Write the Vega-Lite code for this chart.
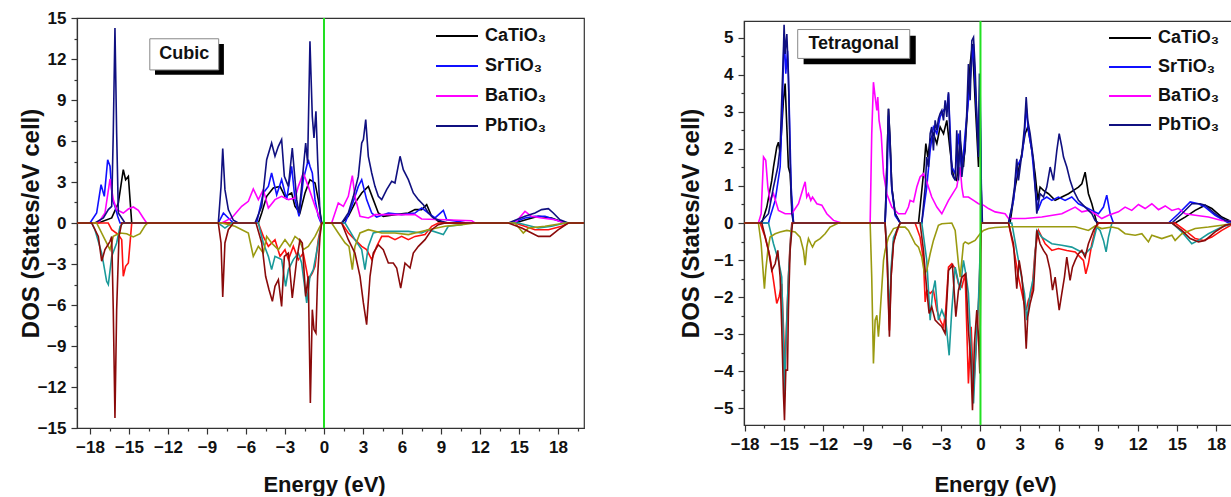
{
"$schema":"https://vega.github.io/schema/vega-lite/v6.json",
"background":"white",
"padding":{"left":18,"top":8,"right":0,"bottom":0},
"config":{
 "font":"Liberation Sans",
 "view":{"stroke":"#333","strokeWidth":1.2},
 "axis":{"grid":false,"domainColor":"#333","domainWidth":1.2,"tickColor":"#333","tickWidth":1.2,"labelFont":"Liberation Sans","labelFontWeight":"bold","labelFontSize":17,"labelColor":"#111","titleFont":"Liberation Sans","titleFontWeight":"bold","titleFontSize":22,"titleColor":"#111","labelPadding":5,"labelFlush":false,"labelOverlap":false}
},
"datasets":{
"cubic":[
{"s":"Ca","x":-19,"y":0},{"s":"Ca","x":-17.36,"y":0},{"s":"Ca","x":-16.33,"y":0.37},{"s":"Ca","x":-15.82,"y":1.46},{"s":"Ca","x":-15.44,"y":3.9},{"s":"Ca","x":-15.26,"y":3.17},{"s":"Ca","x":-15.05,"y":3.41},{"s":"Ca","x":-14.92,"y":1.71},{"s":"Ca","x":-14.79,"y":0},{"s":"Ca","x":-5.05,"y":0},{"s":"Ca","x":-4.79,"y":0.73},{"s":"Ca","x":-4.41,"y":1.95},{"s":"Ca","x":-3.9,"y":2.56},{"s":"Ca","x":-3.38,"y":2.68},{"s":"Ca","x":-3.0,"y":1.95},{"s":"Ca","x":-2.49,"y":2.2},{"s":"Ca","x":-2.23,"y":1.22},{"s":"Ca","x":-1.85,"y":0.73},{"s":"Ca","x":-1.46,"y":2.2},{"s":"Ca","x":-1.08,"y":3.17},{"s":"Ca","x":-0.69,"y":2.93},{"s":"Ca","x":-0.44,"y":1.71},{"s":"Ca","x":-0.18,"y":0},{"s":"Ca","x":1.36,"y":0},{"s":"Ca","x":1.87,"y":0.49},{"s":"Ca","x":2.38,"y":1.46},{"s":"Ca","x":2.9,"y":2.2},{"s":"Ca","x":3.41,"y":2.68},{"s":"Ca","x":3.79,"y":1.71},{"s":"Ca","x":4.18,"y":0.73},{"s":"Ca","x":4.56,"y":0.49},{"s":"Ca","x":5.46,"y":0.61},{"s":"Ca","x":6.49,"y":0.73},{"s":"Ca","x":7.0,"y":0.98},{"s":"Ca","x":7.51,"y":0.98},{"s":"Ca","x":7.9,"y":1.34},{"s":"Ca","x":8.28,"y":0.49},{"s":"Ca","x":8.79,"y":0.12},{"s":"Ca","x":9.31,"y":0},{"s":"Ca","x":14.69,"y":0},{"s":"Ca","x":15.72,"y":0.3},{"s":"Ca","x":16.49,"y":0.49},{"s":"Ca","x":17.51,"y":0.37},{"s":"Ca","x":18.54,"y":0},{"s":"Ca","x":20,"y":0},
{"s":"Sr","x":-19,"y":0},{"s":"Sr","x":-18.0,"y":0},{"s":"Sr","x":-17.49,"y":0.73},{"s":"Sr","x":-17.15,"y":2.8},{"s":"Sr","x":-16.9,"y":1.95},{"s":"Sr","x":-16.64,"y":4.63},{"s":"Sr","x":-16.46,"y":4.15},{"s":"Sr","x":-16.28,"y":1.71},{"s":"Sr","x":-16.08,"y":1.22},{"s":"Sr","x":-15.87,"y":0.49},{"s":"Sr","x":-15.69,"y":0},{"s":"Sr","x":-8.13,"y":0},{"s":"Sr","x":-7.74,"y":0.73},{"s":"Sr","x":-7.36,"y":0.37},{"s":"Sr","x":-6.97,"y":0},{"s":"Sr","x":-5.18,"y":0},{"s":"Sr","x":-4.67,"y":2.2},{"s":"Sr","x":-4.28,"y":2.68},{"s":"Sr","x":-4.03,"y":3.66},{"s":"Sr","x":-3.64,"y":2.07},{"s":"Sr","x":-3.26,"y":3.17},{"s":"Sr","x":-2.87,"y":1.71},{"s":"Sr","x":-2.49,"y":4.15},{"s":"Sr","x":-2.23,"y":1.71},{"s":"Sr","x":-1.92,"y":0.49},{"s":"Sr","x":-1.59,"y":3.17},{"s":"Sr","x":-1.21,"y":4.63},{"s":"Sr","x":-1.08,"y":4.15},{"s":"Sr","x":-0.9,"y":3.66},{"s":"Sr","x":-0.69,"y":1.71},{"s":"Sr","x":-0.44,"y":0.49},{"s":"Sr","x":-0.23,"y":0},{"s":"Sr","x":1.62,"y":0},{"s":"Sr","x":2.13,"y":1.22},{"s":"Sr","x":2.64,"y":2.68},{"s":"Sr","x":2.9,"y":3.17},{"s":"Sr","x":3.28,"y":1.71},{"s":"Sr","x":3.67,"y":0.73},{"s":"Sr","x":4.05,"y":0.44},{"s":"Sr","x":4.95,"y":0.73},{"s":"Sr","x":5.97,"y":0.61},{"s":"Sr","x":7.0,"y":0.73},{"s":"Sr","x":7.51,"y":1.1},{"s":"Sr","x":8.03,"y":0.73},{"s":"Sr","x":8.54,"y":0.37},{"s":"Sr","x":9.18,"y":0.93},{"s":"Sr","x":9.44,"y":0.24},{"s":"Sr","x":10.59,"y":0.07},{"s":"Sr","x":10.97,"y":0},{"s":"Sr","x":14.44,"y":0},{"s":"Sr","x":15.46,"y":0.37},{"s":"Sr","x":16.23,"y":0.49},{"s":"Sr","x":17.0,"y":0.49},{"s":"Sr","x":17.77,"y":0.24},{"s":"Sr","x":18.54,"y":0},{"s":"Sr","x":20,"y":0},
{"s":"Ba","x":-19,"y":0},{"s":"Ba","x":-17.36,"y":0},{"s":"Ba","x":-16.85,"y":0.73},{"s":"Ba","x":-16.46,"y":3.22},{"s":"Ba","x":-16.21,"y":1.71},{"s":"Ba","x":-15.95,"y":0.98},{"s":"Ba","x":-15.44,"y":0.73},{"s":"Ba","x":-15.05,"y":1.02},{"s":"Ba","x":-14.67,"y":1.17},{"s":"Ba","x":-14.28,"y":0.93},{"s":"Ba","x":-13.9,"y":0.37},{"s":"Ba","x":-13.64,"y":0},{"s":"Ba","x":-7.87,"y":0},{"s":"Ba","x":-7.1,"y":0.37},{"s":"Ba","x":-6.33,"y":1.22},{"s":"Ba","x":-5.82,"y":1.59},{"s":"Ba","x":-5.44,"y":2.49},{"s":"Ba","x":-5.05,"y":1.71},{"s":"Ba","x":-4.67,"y":2.44},{"s":"Ba","x":-4.28,"y":1.1},{"s":"Ba","x":-3.77,"y":1.71},{"s":"Ba","x":-3.26,"y":1.95},{"s":"Ba","x":-2.74,"y":1.71},{"s":"Ba","x":-2.23,"y":1.83},{"s":"Ba","x":-1.97,"y":2.68},{"s":"Ba","x":-1.59,"y":3.66},{"s":"Ba","x":-1.21,"y":2.68},{"s":"Ba","x":-0.69,"y":1.22},{"s":"Ba","x":-0.18,"y":0},{"s":"Ba","x":0.59,"y":0},{"s":"Ba","x":1.1,"y":1.46},{"s":"Ba","x":1.49,"y":1.22},{"s":"Ba","x":1.87,"y":1.95},{"s":"Ba","x":2.18,"y":3.46},{"s":"Ba","x":2.38,"y":1.95},{"s":"Ba","x":2.77,"y":0.49},{"s":"Ba","x":3.41,"y":0.37},{"s":"Ba","x":3.92,"y":0.61},{"s":"Ba","x":5.46,"y":0.61},{"s":"Ba","x":7.0,"y":0.61},{"s":"Ba","x":7.51,"y":0.29},{"s":"Ba","x":9.31,"y":0.24},{"s":"Ba","x":11.36,"y":0.17},{"s":"Ba","x":11.62,"y":0},{"s":"Ba","x":14.69,"y":0},{"s":"Ba","x":15.46,"y":0.85},{"s":"Ba","x":15.97,"y":0.49},{"s":"Ba","x":16.74,"y":0.37},{"s":"Ba","x":17.77,"y":0.24},{"s":"Ba","x":18.54,"y":0},{"s":"Ba","x":20,"y":0},
{"s":"Pb","x":-19,"y":0},{"s":"Pb","x":-17.62,"y":0},{"s":"Pb","x":-16.97,"y":0.37},{"s":"Pb","x":-16.59,"y":0.98},{"s":"Pb","x":-16.33,"y":1.22},{"s":"Pb","x":-16.21,"y":6.59},{"s":"Pb","x":-16.08,"y":14.27},{"s":"Pb","x":-15.95,"y":6.59},{"s":"Pb","x":-15.82,"y":0.73},{"s":"Pb","x":-15.56,"y":0.37},{"s":"Pb","x":-15.31,"y":0},{"s":"Pb","x":-8.13,"y":0},{"s":"Pb","x":-7.92,"y":2.68},{"s":"Pb","x":-7.79,"y":5.44},{"s":"Pb","x":-7.62,"y":2.44},{"s":"Pb","x":-7.36,"y":0.98},{"s":"Pb","x":-6.97,"y":0.2},{"s":"Pb","x":-6.59,"y":0},{"s":"Pb","x":-5.31,"y":0},{"s":"Pb","x":-4.79,"y":1.22},{"s":"Pb","x":-4.41,"y":4.63},{"s":"Pb","x":-4.03,"y":5.85},{"s":"Pb","x":-3.77,"y":4.88},{"s":"Pb","x":-3.51,"y":5.61},{"s":"Pb","x":-3.26,"y":6.1},{"s":"Pb","x":-3.05,"y":3.41},{"s":"Pb","x":-2.74,"y":2.68},{"s":"Pb","x":-2.44,"y":5.49},{"s":"Pb","x":-2.1,"y":1.71},{"s":"Pb","x":-1.92,"y":0.73},{"s":"Pb","x":-1.72,"y":2.68},{"s":"Pb","x":-1.41,"y":5.85},{"s":"Pb","x":-1.26,"y":4.39},{"s":"Pb","x":-1.08,"y":13.29},{"s":"Pb","x":-0.9,"y":7.8},{"s":"Pb","x":-0.77,"y":6.22},{"s":"Pb","x":-0.62,"y":8.17},{"s":"Pb","x":-0.49,"y":4.63},{"s":"Pb","x":-0.31,"y":0.73},{"s":"Pb","x":-0.18,"y":0},{"s":"Pb","x":1.36,"y":0},{"s":"Pb","x":1.87,"y":0.73},{"s":"Pb","x":2.26,"y":1.95},{"s":"Pb","x":2.64,"y":3.41},{"s":"Pb","x":2.9,"y":5.85},{"s":"Pb","x":3.03,"y":6.1},{"s":"Pb","x":3.21,"y":7.56},{"s":"Pb","x":3.41,"y":4.88},{"s":"Pb","x":3.67,"y":3.66},{"s":"Pb","x":3.92,"y":2.68},{"s":"Pb","x":4.18,"y":1.95},{"s":"Pb","x":4.44,"y":1.71},{"s":"Pb","x":4.82,"y":2.44},{"s":"Pb","x":5.21,"y":3.05},{"s":"Pb","x":5.46,"y":2.93},{"s":"Pb","x":5.85,"y":4.88},{"s":"Pb","x":6.1,"y":3.9},{"s":"Pb","x":6.49,"y":3.17},{"s":"Pb","x":6.87,"y":2.2},{"s":"Pb","x":7.26,"y":1.71},{"s":"Pb","x":7.64,"y":1.34},{"s":"Pb","x":8.03,"y":0.73},{"s":"Pb","x":8.41,"y":0.37},{"s":"Pb","x":9.05,"y":0.12},{"s":"Pb","x":9.56,"y":0},{"s":"Pb","x":14.18,"y":0},{"s":"Pb","x":15.46,"y":0.49},{"s":"Pb","x":16.23,"y":0.73},{"s":"Pb","x":16.74,"y":0.98},{"s":"Pb","x":17.26,"y":1.05},{"s":"Pb","x":17.64,"y":0.73},{"s":"Pb","x":18.15,"y":0.24},{"s":"Pb","x":18.79,"y":0},{"s":"Pb","x":20,"y":0},
{"s":"Cad","x":-19,"y":0},{"s":"Cad","x":-16.6,"y":0},{"s":"Cad","x":-16.33,"y":-0.49},{"s":"Cad","x":-15.82,"y":-0.85},{"s":"Cad","x":-15.56,"y":-1.22},{"s":"Cad","x":-15.44,"y":-3.9},{"s":"Cad","x":-15.26,"y":-3.17},{"s":"Cad","x":-15.05,"y":-2.93},{"s":"Cad","x":-14.92,"y":-1.46},{"s":"Cad","x":-14.79,"y":0},{"s":"Cad","x":-5.05,"y":0},{"s":"Cad","x":-4.67,"y":-0.98},{"s":"Cad","x":-4.28,"y":-1.71},{"s":"Cad","x":-3.77,"y":-1.22},{"s":"Cad","x":-3.38,"y":-2.44},{"s":"Cad","x":-3.0,"y":-1.95},{"s":"Cad","x":-2.74,"y":-2.68},{"s":"Cad","x":-2.36,"y":-1.71},{"s":"Cad","x":-1.97,"y":-2.68},{"s":"Cad","x":-1.59,"y":-2.2},{"s":"Cad","x":-1.21,"y":-4.15},{"s":"Cad","x":-0.9,"y":-3.66},{"s":"Cad","x":-0.69,"y":-3.17},{"s":"Cad","x":-0.44,"y":-1.22},{"s":"Cad","x":-0.18,"y":0},{"s":"Cad","x":1.36,"y":0},{"s":"Cad","x":1.87,"y":-0.73},{"s":"Cad","x":2.38,"y":-1.22},{"s":"Cad","x":2.9,"y":-1.71},{"s":"Cad","x":3.28,"y":-1.95},{"s":"Cad","x":3.67,"y":-2.68},{"s":"Cad","x":4.05,"y":-1.71},{"s":"Cad","x":4.44,"y":-0.98},{"s":"Cad","x":4.95,"y":-0.98},{"s":"Cad","x":5.46,"y":-1.22},{"s":"Cad","x":5.97,"y":-0.98},{"s":"Cad","x":6.49,"y":-1.22},{"s":"Cad","x":7.0,"y":-0.98},{"s":"Cad","x":7.77,"y":-0.85},{"s":"Cad","x":8.28,"y":-0.24},{"s":"Cad","x":8.79,"y":0},{"s":"Cad","x":14.69,"y":0},{"s":"Cad","x":16.23,"y":-0.49},{"s":"Cad","x":17.26,"y":-0.49},{"s":"Cad","x":18.28,"y":-0.24},{"s":"Cad","x":18.79,"y":0},{"s":"Cad","x":20,"y":0},
{"s":"Srd","x":-19,"y":0},{"s":"Srd","x":-17.87,"y":0},{"s":"Srd","x":-17.62,"y":-0.49},{"s":"Srd","x":-17.1,"y":-2.2},{"s":"Srd","x":-16.72,"y":-4.27},{"s":"Srd","x":-16.59,"y":-4.51},{"s":"Srd","x":-16.33,"y":-2.44},{"s":"Srd","x":-15.95,"y":-1.46},{"s":"Srd","x":-15.69,"y":-0.24},{"s":"Srd","x":-15.44,"y":0},{"s":"Srd","x":-8.13,"y":0},{"s":"Srd","x":-7.62,"y":-0.37},{"s":"Srd","x":-7.1,"y":0},{"s":"Srd","x":-5.05,"y":0},{"s":"Srd","x":-4.67,"y":-1.46},{"s":"Srd","x":-4.28,"y":-2.44},{"s":"Srd","x":-4.03,"y":-3.41},{"s":"Srd","x":-3.77,"y":-2.44},{"s":"Srd","x":-3.26,"y":-2.68},{"s":"Srd","x":-2.95,"y":-4.63},{"s":"Srd","x":-2.74,"y":-3.41},{"s":"Srd","x":-2.36,"y":-2.68},{"s":"Srd","x":-1.97,"y":-2.2},{"s":"Srd","x":-1.72,"y":-2.93},{"s":"Srd","x":-1.33,"y":-5.85},{"s":"Srd","x":-1.08,"y":-3.9},{"s":"Srd","x":-0.82,"y":-3.41},{"s":"Srd","x":-0.44,"y":-1.46},{"s":"Srd","x":-0.18,"y":0},{"s":"Srd","x":1.62,"y":0},{"s":"Srd","x":2.38,"y":-1.22},{"s":"Srd","x":2.9,"y":-1.95},{"s":"Srd","x":3.15,"y":-3.41},{"s":"Srd","x":3.41,"y":-1.71},{"s":"Srd","x":3.79,"y":-0.73},{"s":"Srd","x":4.44,"y":-0.61},{"s":"Srd","x":5.46,"y":-0.61},{"s":"Srd","x":6.49,"y":-0.61},{"s":"Srd","x":7.51,"y":-0.73},{"s":"Srd","x":8.03,"y":-0.49},{"s":"Srd","x":9.18,"y":-0.85},{"s":"Srd","x":9.56,"y":-0.24},{"s":"Srd","x":10.59,"y":-0.12},{"s":"Srd","x":10.97,"y":0},{"s":"Srd","x":14.95,"y":0},{"s":"Srd","x":16.49,"y":-0.37},{"s":"Srd","x":17.51,"y":-0.24},{"s":"Srd","x":18.54,"y":0},{"s":"Srd","x":20,"y":0},
{"s":"Bad","x":-19,"y":0},{"s":"Bad","x":-17.49,"y":0},{"s":"Bad","x":-16.85,"y":-1.22},{"s":"Bad","x":-16.46,"y":-1.95},{"s":"Bad","x":-16.21,"y":-0.98},{"s":"Bad","x":-15.69,"y":-0.73},{"s":"Bad","x":-15.18,"y":-0.78},{"s":"Bad","x":-14.67,"y":-1.02},{"s":"Bad","x":-14.15,"y":-0.78},{"s":"Bad","x":-13.77,"y":-0.2},{"s":"Bad","x":-13.56,"y":0},{"s":"Bad","x":-7.87,"y":0},{"s":"Bad","x":-6.85,"y":-0.24},{"s":"Bad","x":-5.82,"y":-0.73},{"s":"Bad","x":-5.44,"y":-2.44},{"s":"Bad","x":-5.05,"y":-1.71},{"s":"Bad","x":-4.67,"y":-2.2},{"s":"Bad","x":-4.41,"y":-0.98},{"s":"Bad","x":-4.03,"y":-1.46},{"s":"Bad","x":-3.51,"y":-1.95},{"s":"Bad","x":-3.0,"y":-1.22},{"s":"Bad","x":-2.62,"y":-1.71},{"s":"Bad","x":-2.23,"y":-0.98},{"s":"Bad","x":-1.92,"y":-1.22},{"s":"Bad","x":-1.59,"y":-1.95},{"s":"Bad","x":-1.21,"y":-1.71},{"s":"Bad","x":-0.69,"y":-0.98},{"s":"Bad","x":-0.18,"y":0},{"s":"Bad","x":0.59,"y":0},{"s":"Bad","x":1.1,"y":-0.73},{"s":"Bad","x":1.62,"y":-1.46},{"s":"Bad","x":1.92,"y":-1.71},{"s":"Bad","x":2.18,"y":-3.41},{"s":"Bad","x":2.38,"y":-1.71},{"s":"Bad","x":2.77,"y":-0.73},{"s":"Bad","x":3.41,"y":-0.49},{"s":"Bad","x":4.44,"y":-0.73},{"s":"Bad","x":5.46,"y":-0.73},{"s":"Bad","x":6.49,"y":-0.85},{"s":"Bad","x":7.0,"y":-0.73},{"s":"Bad","x":8.03,"y":-0.49},{"s":"Bad","x":9.31,"y":-0.24},{"s":"Bad","x":10.59,"y":-0.12},{"s":"Bad","x":11.62,"y":0},{"s":"Bad","x":14.69,"y":0},{"s":"Bad","x":15.33,"y":-0.73},{"s":"Bad","x":15.72,"y":-0.37},{"s":"Bad","x":17.0,"y":-0.24},{"s":"Bad","x":18.54,"y":0},{"s":"Bad","x":20,"y":0},
{"s":"Pbd","x":-19,"y":0},{"s":"Pbd","x":-17.87,"y":0},{"s":"Pbd","x":-17.36,"y":-0.98},{"s":"Pbd","x":-17.1,"y":-2.8},{"s":"Pbd","x":-16.85,"y":-1.95},{"s":"Pbd","x":-16.46,"y":-1.34},{"s":"Pbd","x":-16.33,"y":-0.98},{"s":"Pbd","x":-16.21,"y":-6.34},{"s":"Pbd","x":-16.08,"y":-14.27},{"s":"Pbd","x":-15.95,"y":-6.34},{"s":"Pbd","x":-15.77,"y":-0.98},{"s":"Pbd","x":-15.56,"y":0},{"s":"Pbd","x":-8.13,"y":0},{"s":"Pbd","x":-7.92,"y":-1.46},{"s":"Pbd","x":-7.79,"y":-5.41},{"s":"Pbd","x":-7.62,"y":-1.46},{"s":"Pbd","x":-7.36,"y":-0.49},{"s":"Pbd","x":-6.97,"y":0},{"s":"Pbd","x":-5.23,"y":0},{"s":"Pbd","x":-4.79,"y":-1.46},{"s":"Pbd","x":-4.49,"y":-3.9},{"s":"Pbd","x":-4.23,"y":-4.88},{"s":"Pbd","x":-3.97,"y":-5.73},{"s":"Pbd","x":-3.77,"y":-4.63},{"s":"Pbd","x":-3.51,"y":-4.15},{"s":"Pbd","x":-3.26,"y":-6.1},{"s":"Pbd","x":-3.05,"y":-2.44},{"s":"Pbd","x":-2.74,"y":-2.2},{"s":"Pbd","x":-2.44,"y":-5.49},{"s":"Pbd","x":-2.1,"y":-2.68},{"s":"Pbd","x":-1.85,"y":-1.22},{"s":"Pbd","x":-1.67,"y":-1.46},{"s":"Pbd","x":-1.41,"y":-5.37},{"s":"Pbd","x":-1.21,"y":-3.9},{"s":"Pbd","x":-1.05,"y":-13.17},{"s":"Pbd","x":-0.9,"y":-6.34},{"s":"Pbd","x":-0.77,"y":-7.8},{"s":"Pbd","x":-0.62,"y":-8.05},{"s":"Pbd","x":-0.49,"y":-3.9},{"s":"Pbd","x":-0.31,"y":-0.98},{"s":"Pbd","x":-0.18,"y":0},{"s":"Pbd","x":1.36,"y":0},{"s":"Pbd","x":1.87,"y":-1.22},{"s":"Pbd","x":2.38,"y":-2.2},{"s":"Pbd","x":2.77,"y":-3.9},{"s":"Pbd","x":3.03,"y":-5.85},{"s":"Pbd","x":3.28,"y":-7.44},{"s":"Pbd","x":3.54,"y":-3.9},{"s":"Pbd","x":3.79,"y":-2.2},{"s":"Pbd","x":4.18,"y":-1.59},{"s":"Pbd","x":4.56,"y":-1.95},{"s":"Pbd","x":4.95,"y":-2.93},{"s":"Pbd","x":5.33,"y":-2.93},{"s":"Pbd","x":5.59,"y":-3.29},{"s":"Pbd","x":5.9,"y":-4.76},{"s":"Pbd","x":6.23,"y":-2.93},{"s":"Pbd","x":6.62,"y":-3.29},{"s":"Pbd","x":6.87,"y":-2.2},{"s":"Pbd","x":7.26,"y":-1.71},{"s":"Pbd","x":7.77,"y":-1.22},{"s":"Pbd","x":8.28,"y":-0.49},{"s":"Pbd","x":8.79,"y":-0.12},{"s":"Pbd","x":9.31,"y":0},{"s":"Pbd","x":14.18,"y":0},{"s":"Pbd","x":15.21,"y":-0.37},{"s":"Pbd","x":15.97,"y":-0.73},{"s":"Pbd","x":16.49,"y":-0.98},{"s":"Pbd","x":17.38,"y":-0.98},{"s":"Pbd","x":18.03,"y":-0.49},{"s":"Pbd","x":18.79,"y":0},{"s":"Pbd","x":20,"y":0}
],
"tetra":[
{"s":"Ca","x":-18.05,"y":0},{"s":"Ca","x":-16.69,"y":0},{"s":"Ca","x":-16.31,"y":0.43},{"s":"Ca","x":-15.93,"y":1.15},{"s":"Ca","x":-15.8,"y":1.51},{"s":"Ca","x":-15.55,"y":2.05},{"s":"Ca","x":-15.42,"y":2.18},{"s":"Ca","x":-15.29,"y":1.87},{"s":"Ca","x":-15.04,"y":3.31},{"s":"Ca","x":-14.91,"y":3.76},{"s":"Ca","x":-14.66,"y":1.51},{"s":"Ca","x":-14.53,"y":1.33},{"s":"Ca","x":-14.4,"y":0.43},{"s":"Ca","x":-14.27,"y":0},{"s":"Ca","x":-7.28,"y":0},{"s":"Ca","x":-7.15,"y":1.51},{"s":"Ca","x":-7.02,"y":3.08},{"s":"Ca","x":-6.9,"y":2.23},{"s":"Ca","x":-6.77,"y":0.97},{"s":"Ca","x":-6.51,"y":0.25},{"s":"Ca","x":-6.13,"y":0},{"s":"Ca","x":-4.73,"y":0},{"s":"Ca","x":-4.35,"y":1.33},{"s":"Ca","x":-4.17,"y":2.14},{"s":"Ca","x":-4.02,"y":1.78},{"s":"Ca","x":-3.84,"y":2.23},{"s":"Ca","x":-3.59,"y":2.41},{"s":"Ca","x":-3.33,"y":2.14},{"s":"Ca","x":-3.08,"y":2.59},{"s":"Ca","x":-2.82,"y":2.41},{"s":"Ca","x":-2.57,"y":2.77},{"s":"Ca","x":-2.32,"y":1.96},{"s":"Ca","x":-2.06,"y":1.24},{"s":"Ca","x":-1.81,"y":1.15},{"s":"Ca","x":-1.55,"y":2.23},{"s":"Ca","x":-1.3,"y":1.51},{"s":"Ca","x":-1.04,"y":2.77},{"s":"Ca","x":-0.79,"y":4.29},{"s":"Ca","x":-0.61,"y":4.83},{"s":"Ca","x":-0.41,"y":3.31},{"s":"Ca","x":-0.15,"y":1.51},{"s":"Ca","x":-0.05,"y":3.76},{"s":"Ca","x":0.1,"y":0},{"s":"Ca","x":2.26,"y":0},{"s":"Ca","x":2.65,"y":0.97},{"s":"Ca","x":2.9,"y":1.42},{"s":"Ca","x":3.16,"y":1.87},{"s":"Ca","x":3.41,"y":2.41},{"s":"Ca","x":3.61,"y":2.59},{"s":"Ca","x":3.92,"y":1.96},{"s":"Ca","x":4.17,"y":1.33},{"s":"Ca","x":4.38,"y":0.61},{"s":"Ca","x":4.55,"y":0.97},{"s":"Ca","x":4.81,"y":0.88},{"s":"Ca","x":5.19,"y":0.79},{"s":"Ca","x":5.7,"y":0.61},{"s":"Ca","x":6.21,"y":0.7},{"s":"Ca","x":6.72,"y":0.79},{"s":"Ca","x":7.1,"y":0.88},{"s":"Ca","x":7.48,"y":0.97},{"s":"Ca","x":7.74,"y":1.06},{"s":"Ca","x":7.99,"y":1.37},{"s":"Ca","x":8.24,"y":0.79},{"s":"Ca","x":8.5,"y":0.52},{"s":"Ca","x":8.88,"y":0},{"s":"Ca","x":14.86,"y":0},{"s":"Ca","x":15.62,"y":0.16},{"s":"Ca","x":16.39,"y":0.34},{"s":"Ca","x":17.15,"y":0.48},{"s":"Ca","x":17.66,"y":0.39},{"s":"Ca","x":18.42,"y":0.16},{"s":"Ca","x":19.2,"y":0.03},
{"s":"Sr","x":-18.05,"y":0},{"s":"Sr","x":-16.18,"y":0},{"s":"Sr","x":-16.06,"y":0.16},{"s":"Sr","x":-15.67,"y":0.61},{"s":"Sr","x":-15.29,"y":1.51},{"s":"Sr","x":-15.11,"y":3.31},{"s":"Sr","x":-14.99,"y":5.1},{"s":"Sr","x":-14.86,"y":4.03},{"s":"Sr","x":-14.73,"y":4.65},{"s":"Sr","x":-14.61,"y":3.31},{"s":"Sr","x":-14.45,"y":0.97},{"s":"Sr","x":-14.27,"y":0},{"s":"Sr","x":-7.28,"y":0},{"s":"Sr","x":-7.12,"y":1.2},{"s":"Sr","x":-7.02,"y":2.9},{"s":"Sr","x":-6.9,"y":2.0},{"s":"Sr","x":-6.77,"y":0.9},{"s":"Sr","x":-6.51,"y":0.2},{"s":"Sr","x":-6.13,"y":0},{"s":"Sr","x":-4.48,"y":0},{"s":"Sr","x":-4.1,"y":0.97},{"s":"Sr","x":-3.84,"y":1.96},{"s":"Sr","x":-3.59,"y":2.59},{"s":"Sr","x":-3.33,"y":2.41},{"s":"Sr","x":-3.08,"y":2.86},{"s":"Sr","x":-2.82,"y":3.04},{"s":"Sr","x":-2.57,"y":3.13},{"s":"Sr","x":-2.44,"y":3.49},{"s":"Sr","x":-2.19,"y":1.51},{"s":"Sr","x":-1.93,"y":1.33},{"s":"Sr","x":-1.68,"y":2.41},{"s":"Sr","x":-1.42,"y":1.33},{"s":"Sr","x":-1.17,"y":2.41},{"s":"Sr","x":-0.92,"y":3.31},{"s":"Sr","x":-0.66,"y":4.38},{"s":"Sr","x":-0.53,"y":4.83},{"s":"Sr","x":-0.41,"y":3.76},{"s":"Sr","x":-0.15,"y":1.96},{"s":"Sr","x":-0.03,"y":3.76},{"s":"Sr","x":0.1,"y":0},{"s":"Sr","x":2.14,"y":0},{"s":"Sr","x":2.52,"y":0.61},{"s":"Sr","x":2.77,"y":1.51},{"s":"Sr","x":3.16,"y":1.78},{"s":"Sr","x":3.36,"y":2.41},{"s":"Sr","x":3.49,"y":3.13},{"s":"Sr","x":3.66,"y":2.5},{"s":"Sr","x":3.92,"y":1.96},{"s":"Sr","x":4.17,"y":0.97},{"s":"Sr","x":4.38,"y":0.34},{"s":"Sr","x":4.68,"y":0.61},{"s":"Sr","x":5.06,"y":0.7},{"s":"Sr","x":5.45,"y":0.61},{"s":"Sr","x":5.95,"y":0.7},{"s":"Sr","x":6.46,"y":0.61},{"s":"Sr","x":6.97,"y":0.7},{"s":"Sr","x":7.48,"y":0.52},{"s":"Sr","x":7.99,"y":0.43},{"s":"Sr","x":8.5,"y":0.34},{"s":"Sr","x":9.01,"y":0.25},{"s":"Sr","x":9.39,"y":0.43},{"s":"Sr","x":9.64,"y":0.75},{"s":"Sr","x":9.9,"y":0.25},{"s":"Sr","x":10.15,"y":0},{"s":"Sr","x":14.35,"y":0},{"s":"Sr","x":15.11,"y":0.25},{"s":"Sr","x":16.01,"y":0.57},{"s":"Sr","x":16.64,"y":0.52},{"s":"Sr","x":17.15,"y":0.43},{"s":"Sr","x":17.91,"y":0.21},{"s":"Sr","x":18.93,"y":0},{"s":"Sr","x":19.2,"y":0},
{"s":"Ba","x":-18.05,"y":0},{"s":"Ba","x":-16.95,"y":0},{"s":"Ba","x":-16.74,"y":0.25},{"s":"Ba","x":-16.56,"y":1.78},{"s":"Ba","x":-16.39,"y":1.69},{"s":"Ba","x":-16.23,"y":0.97},{"s":"Ba","x":-16.06,"y":0.61},{"s":"Ba","x":-15.8,"y":0.79},{"s":"Ba","x":-15.42,"y":0.34},{"s":"Ba","x":-14.91,"y":0.25},{"s":"Ba","x":-14.4,"y":0.25},{"s":"Ba","x":-13.89,"y":0.52},{"s":"Ba","x":-13.51,"y":0.97},{"s":"Ba","x":-13.38,"y":1.11},{"s":"Ba","x":-13.26,"y":0.7},{"s":"Ba","x":-13.13,"y":0.79},{"s":"Ba","x":-12.95,"y":0.61},{"s":"Ba","x":-12.82,"y":0.7},{"s":"Ba","x":-12.49,"y":0.52},{"s":"Ba","x":-12.11,"y":0.48},{"s":"Ba","x":-11.73,"y":0.25},{"s":"Ba","x":-11.22,"y":0.07},{"s":"Ba","x":-10.59,"y":0},{"s":"Ba","x":-8.42,"y":0},{"s":"Ba","x":-8.3,"y":2.41},{"s":"Ba","x":-8.17,"y":3.8},{"s":"Ba","x":-8.04,"y":3.4},{"s":"Ba","x":-7.91,"y":3.04},{"s":"Ba","x":-7.84,"y":3.4},{"s":"Ba","x":-7.74,"y":2.77},{"s":"Ba","x":-7.58,"y":2.41},{"s":"Ba","x":-7.4,"y":1.33},{"s":"Ba","x":-7.15,"y":0.79},{"s":"Ba","x":-6.77,"y":0.43},{"s":"Ba","x":-6.26,"y":0.25},{"s":"Ba","x":-5.75,"y":0.25},{"s":"Ba","x":-5.5,"y":0.43},{"s":"Ba","x":-5.37,"y":0.61},{"s":"Ba","x":-5.11,"y":0.57},{"s":"Ba","x":-4.86,"y":0.97},{"s":"Ba","x":-4.61,"y":1.24},{"s":"Ba","x":-4.35,"y":1.33},{"s":"Ba","x":-4.1,"y":1.11},{"s":"Ba","x":-3.72,"y":0.7},{"s":"Ba","x":-3.33,"y":0.43},{"s":"Ba","x":-2.95,"y":0.25},{"s":"Ba","x":-2.44,"y":0.61},{"s":"Ba","x":-1.81,"y":0.97},{"s":"Ba","x":-1.55,"y":1.51},{"s":"Ba","x":-1.42,"y":0.97},{"s":"Ba","x":-1.3,"y":0.7},{"s":"Ba","x":-0.92,"y":0.7},{"s":"Ba","x":-0.53,"y":0.61},{"s":"Ba","x":-0.15,"y":0.52},{"s":"Ba","x":0.23,"y":0.48},{"s":"Ba","x":0.61,"y":0.39},{"s":"Ba","x":1.12,"y":0.3},{"s":"Ba","x":1.88,"y":0.25},{"s":"Ba","x":2.14,"y":0.12},{"s":"Ba","x":3.41,"y":0.12},{"s":"Ba","x":4.68,"y":0.16},{"s":"Ba","x":6.21,"y":0.25},{"s":"Ba","x":7.23,"y":0.43},{"s":"Ba","x":7.74,"y":0.3},{"s":"Ba","x":8.24,"y":0.34},{"s":"Ba","x":8.75,"y":0.25},{"s":"Ba","x":9.26,"y":0.12},{"s":"Ba","x":9.77,"y":0.21},{"s":"Ba","x":10.53,"y":0.3},{"s":"Ba","x":11.04,"y":0.43},{"s":"Ba","x":11.55,"y":0.34},{"s":"Ba","x":12.06,"y":0.5},{"s":"Ba","x":12.57,"y":0.39},{"s":"Ba","x":13.08,"y":0.52},{"s":"Ba","x":13.59,"y":0.36},{"s":"Ba","x":14.1,"y":0.46},{"s":"Ba","x":14.61,"y":0.34},{"s":"Ba","x":15.12,"y":0.39},{"s":"Ba","x":15.62,"y":0.25},{"s":"Ba","x":16.39,"y":0.21},{"s":"Ba","x":17.4,"y":0.16},{"s":"Ba","x":18.42,"y":0.07},{"s":"Ba","x":19.2,"y":0.05},
{"s":"Pb","x":-18.05,"y":0},{"s":"Pb","x":-16.82,"y":0},{"s":"Pb","x":-16.18,"y":0.25},{"s":"Pb","x":-15.8,"y":0.97},{"s":"Pb","x":-15.47,"y":1.51},{"s":"Pb","x":-15.29,"y":2.05},{"s":"Pb","x":-15.17,"y":3.31},{"s":"Pb","x":-15.04,"y":4.65},{"s":"Pb","x":-14.99,"y":5.35},{"s":"Pb","x":-14.91,"y":4.56},{"s":"Pb","x":-14.78,"y":5.1},{"s":"Pb","x":-14.66,"y":4.03},{"s":"Pb","x":-14.53,"y":1.69},{"s":"Pb","x":-14.4,"y":0.25},{"s":"Pb","x":-14.27,"y":0},{"s":"Pb","x":-7.28,"y":0},{"s":"Pb","x":-7.15,"y":1.51},{"s":"Pb","x":-7.02,"y":3.08},{"s":"Pb","x":-6.9,"y":2.23},{"s":"Pb","x":-6.77,"y":0.97},{"s":"Pb","x":-6.51,"y":0.25},{"s":"Pb","x":-6.13,"y":0},{"s":"Pb","x":-4.48,"y":0},{"s":"Pb","x":-4.22,"y":0.97},{"s":"Pb","x":-4.1,"y":1.78},{"s":"Pb","x":-3.97,"y":1.51},{"s":"Pb","x":-3.84,"y":2.41},{"s":"Pb","x":-3.72,"y":2.59},{"s":"Pb","x":-3.59,"y":1.96},{"s":"Pb","x":-3.46,"y":2.77},{"s":"Pb","x":-3.33,"y":2.5},{"s":"Pb","x":-3.21,"y":2.81},{"s":"Pb","x":-3.08,"y":2.95},{"s":"Pb","x":-2.95,"y":3.04},{"s":"Pb","x":-2.82,"y":2.77},{"s":"Pb","x":-2.7,"y":3.31},{"s":"Pb","x":-2.57,"y":2.86},{"s":"Pb","x":-2.44,"y":3.53},{"s":"Pb","x":-2.32,"y":2.23},{"s":"Pb","x":-2.19,"y":1.33},{"s":"Pb","x":-2.06,"y":1.24},{"s":"Pb","x":-1.93,"y":1.15},{"s":"Pb","x":-1.81,"y":2.5},{"s":"Pb","x":-1.68,"y":1.15},{"s":"Pb","x":-1.55,"y":2.5},{"s":"Pb","x":-1.42,"y":1.24},{"s":"Pb","x":-1.3,"y":1.69},{"s":"Pb","x":-1.17,"y":1.96},{"s":"Pb","x":-1.04,"y":3.04},{"s":"Pb","x":-0.92,"y":4.29},{"s":"Pb","x":-0.79,"y":3.31},{"s":"Pb","x":-0.66,"y":4.92},{"s":"Pb","x":-0.53,"y":5.01},{"s":"Pb","x":-0.41,"y":4.2},{"s":"Pb","x":-0.28,"y":2.86},{"s":"Pb","x":-0.15,"y":1.78},{"s":"Pb","x":-0.08,"y":4.03},{"s":"Pb","x":0.05,"y":0.97},{"s":"Pb","x":0.15,"y":0},{"s":"Pb","x":2.14,"y":0},{"s":"Pb","x":2.39,"y":0.43},{"s":"Pb","x":2.6,"y":0.97},{"s":"Pb","x":2.77,"y":1.73},{"s":"Pb","x":2.9,"y":1.15},{"s":"Pb","x":3.16,"y":1.87},{"s":"Pb","x":3.36,"y":2.59},{"s":"Pb","x":3.49,"y":3.4},{"s":"Pb","x":3.61,"y":2.77},{"s":"Pb","x":3.79,"y":2.41},{"s":"Pb","x":4.05,"y":1.69},{"s":"Pb","x":4.3,"y":0.25},{"s":"Pb","x":4.55,"y":0.79},{"s":"Pb","x":4.81,"y":0.7},{"s":"Pb","x":5.06,"y":0.97},{"s":"Pb","x":5.32,"y":1.51},{"s":"Pb","x":5.57,"y":1.15},{"s":"Pb","x":5.83,"y":1.96},{"s":"Pb","x":6.01,"y":2.41},{"s":"Pb","x":6.21,"y":2.05},{"s":"Pb","x":6.34,"y":1.78},{"s":"Pb","x":6.59,"y":1.51},{"s":"Pb","x":6.84,"y":1.15},{"s":"Pb","x":7.1,"y":0.88},{"s":"Pb","x":7.48,"y":0.61},{"s":"Pb","x":7.99,"y":0.43},{"s":"Pb","x":8.5,"y":0.25},{"s":"Pb","x":8.75,"y":0.07},{"s":"Pb","x":9.01,"y":0},{"s":"Pb","x":14.61,"y":0},{"s":"Pb","x":15.37,"y":0.25},{"s":"Pb","x":16.13,"y":0.52},{"s":"Pb","x":16.77,"y":0.52},{"s":"Pb","x":17.15,"y":0.48},{"s":"Pb","x":17.91,"y":0.25},{"s":"Pb","x":18.68,"y":0.07},{"s":"Pb","x":19.2,"y":0.03},
{"s":"Cad","x":-18.05,"y":0},{"s":"Cad","x":-16.82,"y":0},{"s":"Cad","x":-16.44,"y":-0.38},{"s":"Cad","x":-16.06,"y":-0.92},{"s":"Cad","x":-15.8,"y":-1.55},{"s":"Cad","x":-15.55,"y":-2.17},{"s":"Cad","x":-15.37,"y":-1.99},{"s":"Cad","x":-15.17,"y":-1.64},{"s":"Cad","x":-15.04,"y":-2.8},{"s":"Cad","x":-14.91,"y":-4.15},{"s":"Cad","x":-14.78,"y":-2.62},{"s":"Cad","x":-14.66,"y":-1.46},{"s":"Cad","x":-14.53,"y":-0.56},{"s":"Cad","x":-14.4,"y":0},{"s":"Cad","x":-7.28,"y":0},{"s":"Cad","x":-7.12,"y":-1.0},{"s":"Cad","x":-6.95,"y":-2.9},{"s":"Cad","x":-6.82,"y":-1.4},{"s":"Cad","x":-6.64,"y":-0.5},{"s":"Cad","x":-6.13,"y":0},{"s":"Cad","x":-4.99,"y":0},{"s":"Cad","x":-4.61,"y":-0.38},{"s":"Cad","x":-4.35,"y":-1.01},{"s":"Cad","x":-4.22,"y":-2.13},{"s":"Cad","x":-4.1,"y":-1.81},{"s":"Cad","x":-3.84,"y":-1.9},{"s":"Cad","x":-3.59,"y":-1.81},{"s":"Cad","x":-3.33,"y":-2.35},{"s":"Cad","x":-3.08,"y":-2.62},{"s":"Cad","x":-2.82,"y":-2.8},{"s":"Cad","x":-2.65,"y":-2.35},{"s":"Cad","x":-2.44,"y":-1.19},{"s":"Cad","x":-2.19,"y":-1.1},{"s":"Cad","x":-1.93,"y":-1.23},{"s":"Cad","x":-1.68,"y":-1.64},{"s":"Cad","x":-1.42,"y":-1.73},{"s":"Cad","x":-1.17,"y":-1.37},{"s":"Cad","x":-0.92,"y":-4.33},{"s":"Cad","x":-0.71,"y":-2.8},{"s":"Cad","x":-0.53,"y":-4.51},{"s":"Cad","x":-0.28,"y":-3.07},{"s":"Cad","x":-0.1,"y":-1.81},{"s":"Cad","x":0.05,"y":0},{"s":"Cad","x":2.14,"y":0},{"s":"Cad","x":2.52,"y":-0.65},{"s":"Cad","x":2.9,"y":-1.46},{"s":"Cad","x":3.28,"y":-2.08},{"s":"Cad","x":3.49,"y":-2.35},{"s":"Cad","x":3.66,"y":-2.08},{"s":"Cad","x":3.92,"y":-1.9},{"s":"Cad","x":4.17,"y":-0.74},{"s":"Cad","x":4.43,"y":-0.2},{"s":"Cad","x":4.94,"y":-0.56},{"s":"Cad","x":5.45,"y":-0.74},{"s":"Cad","x":5.95,"y":-0.69},{"s":"Cad","x":6.59,"y":-0.74},{"s":"Cad","x":7.23,"y":-0.78},{"s":"Cad","x":7.61,"y":-0.92},{"s":"Cad","x":7.86,"y":-1.01},{"s":"Cad","x":8.04,"y":-1.37},{"s":"Cad","x":8.24,"y":-1.1},{"s":"Cad","x":8.5,"y":-0.56},{"s":"Cad","x":8.75,"y":-0.2},{"s":"Cad","x":9.01,"y":0},{"s":"Cad","x":14.86,"y":0},{"s":"Cad","x":15.62,"y":-0.2},{"s":"Cad","x":16.39,"y":-0.42},{"s":"Cad","x":17.02,"y":-0.47},{"s":"Cad","x":17.66,"y":-0.38},{"s":"Cad","x":18.42,"y":-0.2},{"s":"Cad","x":19.2,"y":-0.04},
{"s":"Srd","x":-18.05,"y":0},{"s":"Srd","x":-16.18,"y":0},{"s":"Srd","x":-15.8,"y":-0.56},{"s":"Srd","x":-15.42,"y":-1.01},{"s":"Srd","x":-15.17,"y":-1.46},{"s":"Srd","x":-15.04,"y":-3.25},{"s":"Srd","x":-14.96,"y":-4.69},{"s":"Srd","x":-14.86,"y":-3.25},{"s":"Srd","x":-14.66,"y":-1.46},{"s":"Srd","x":-14.45,"y":-0.2},{"s":"Srd","x":-14.35,"y":0},{"s":"Srd","x":-7.28,"y":0},{"s":"Srd","x":-7.12,"y":-0.8},{"s":"Srd","x":-6.95,"y":-2.6},{"s":"Srd","x":-6.82,"y":-1.2},{"s":"Srd","x":-6.64,"y":-0.4},{"s":"Srd","x":-6.13,"y":0},{"s":"Srd","x":-4.48,"y":0},{"s":"Srd","x":-4.1,"y":-1.01},{"s":"Srd","x":-3.84,"y":-2.62},{"s":"Srd","x":-3.66,"y":-1.9},{"s":"Srd","x":-3.46,"y":-1.55},{"s":"Srd","x":-3.21,"y":-2.62},{"s":"Srd","x":-2.95,"y":-2.35},{"s":"Srd","x":-2.65,"y":-2.62},{"s":"Srd","x":-2.39,"y":-3.57},{"s":"Srd","x":-2.19,"y":-2.35},{"s":"Srd","x":-1.93,"y":-1.19},{"s":"Srd","x":-1.55,"y":-1.81},{"s":"Srd","x":-1.3,"y":-1.01},{"s":"Srd","x":-1.12,"y":-1.37},{"s":"Srd","x":-0.92,"y":-1.9},{"s":"Srd","x":-0.71,"y":-3.43},{"s":"Srd","x":-0.53,"y":-4.87},{"s":"Srd","x":-0.33,"y":-3.25},{"s":"Srd","x":-0.15,"y":-2.08},{"s":"Srd","x":0.05,"y":0},{"s":"Srd","x":2.39,"y":0},{"s":"Srd","x":2.9,"y":-1.01},{"s":"Srd","x":3.36,"y":-1.9},{"s":"Srd","x":3.54,"y":-2.62},{"s":"Srd","x":3.79,"y":-1.9},{"s":"Srd","x":4.05,"y":-1.46},{"s":"Srd","x":4.3,"y":-0.2},{"s":"Srd","x":4.68,"y":-0.38},{"s":"Srd","x":5.45,"y":-0.56},{"s":"Srd","x":6.21,"y":-0.6},{"s":"Srd","x":6.97,"y":-0.65},{"s":"Srd","x":7.48,"y":-0.74},{"s":"Srd","x":7.99,"y":-0.83},{"s":"Srd","x":8.5,"y":-0.65},{"s":"Srd","x":8.88,"y":-0.11},{"s":"Srd","x":9.13,"y":-0.2},{"s":"Srd","x":9.39,"y":-0.47},{"s":"Srd","x":9.59,"y":-0.78},{"s":"Srd","x":9.77,"y":-0.38},{"s":"Srd","x":10.03,"y":0},{"s":"Srd","x":14.61,"y":0},{"s":"Srd","x":15.37,"y":-0.24},{"s":"Srd","x":16.13,"y":-0.56},{"s":"Srd","x":16.64,"y":-0.47},{"s":"Srd","x":17.4,"y":-0.29},{"s":"Srd","x":18.42,"y":-0.11},{"s":"Srd","x":19.2,"y":-0.02},
{"s":"Bad","x":-18.05,"y":0},{"s":"Bad","x":-16.95,"y":0},{"s":"Bad","x":-16.74,"y":-0.56},{"s":"Bad","x":-16.56,"y":-1.46},{"s":"Bad","x":-16.49,"y":-1.77},{"s":"Bad","x":-16.39,"y":-1.28},{"s":"Bad","x":-16.23,"y":-0.74},{"s":"Bad","x":-16.06,"y":-0.38},{"s":"Bad","x":-15.67,"y":-0.29},{"s":"Bad","x":-15.29,"y":-0.24},{"s":"Bad","x":-14.78,"y":-0.2},{"s":"Bad","x":-14.15,"y":-0.24},{"s":"Bad","x":-13.77,"y":-0.38},{"s":"Bad","x":-13.51,"y":-0.74},{"s":"Bad","x":-13.38,"y":-1.14},{"s":"Bad","x":-13.26,"y":-0.65},{"s":"Bad","x":-13.13,"y":-0.42},{"s":"Bad","x":-12.95,"y":-0.56},{"s":"Bad","x":-12.82,"y":-0.65},{"s":"Bad","x":-12.62,"y":-0.51},{"s":"Bad","x":-12.24,"y":-0.42},{"s":"Bad","x":-11.86,"y":-0.29},{"s":"Bad","x":-11.48,"y":-0.11},{"s":"Bad","x":-10.84,"y":0},{"s":"Bad","x":-8.42,"y":0},{"s":"Bad","x":-8.3,"y":-1.46},{"s":"Bad","x":-8.17,"y":-3.79},{"s":"Bad","x":-8.04,"y":-2.62},{"s":"Bad","x":-7.91,"y":-2.49},{"s":"Bad","x":-7.79,"y":-3.07},{"s":"Bad","x":-7.71,"y":-2.71},{"s":"Bad","x":-7.53,"y":-1.73},{"s":"Bad","x":-7.4,"y":-1.01},{"s":"Bad","x":-7.28,"y":-0.74},{"s":"Bad","x":-7.02,"y":-0.38},{"s":"Bad","x":-6.64,"y":-0.15},{"s":"Bad","x":-6.26,"y":-0.11},{"s":"Bad","x":-5.75,"y":-0.11},{"s":"Bad","x":-5.5,"y":-0.2},{"s":"Bad","x":-5.24,"y":-0.38},{"s":"Bad","x":-4.99,"y":-0.56},{"s":"Bad","x":-4.73,"y":-0.65},{"s":"Bad","x":-4.48,"y":-0.92},{"s":"Bad","x":-4.27,"y":-1.37},{"s":"Bad","x":-4.1,"y":-1.28},{"s":"Bad","x":-3.84,"y":-0.83},{"s":"Bad","x":-3.59,"y":-0.47},{"s":"Bad","x":-3.21,"y":-0.06},{"s":"Bad","x":-2.95,"y":-0.02},{"s":"Bad","x":-2.19,"y":0},{"s":"Bad","x":-1.93,"y":-0.2},{"s":"Bad","x":-1.68,"y":-1.1},{"s":"Bad","x":-1.55,"y":-1.46},{"s":"Bad","x":-1.42,"y":-1.01},{"s":"Bad","x":-1.3,"y":-0.56},{"s":"Bad","x":-1.17,"y":-0.51},{"s":"Bad","x":-0.92,"y":-0.56},{"s":"Bad","x":-0.41,"y":-0.47},{"s":"Bad","x":-0.03,"y":-0.29},{"s":"Bad","x":0.23,"y":-0.2},{"s":"Bad","x":0.61,"y":-0.15},{"s":"Bad","x":1.12,"y":-0.12},{"s":"Bad","x":2.14,"y":-0.1},{"s":"Bad","x":4.68,"y":-0.1},{"s":"Bad","x":7.23,"y":-0.1},{"s":"Bad","x":8.24,"y":-0.2},{"s":"Bad","x":8.75,"y":-0.08},{"s":"Bad","x":9.26,"y":-0.15},{"s":"Bad","x":10.03,"y":-0.11},{"s":"Bad","x":10.53,"y":-0.15},{"s":"Bad","x":11.04,"y":-0.29},{"s":"Bad","x":11.81,"y":-0.33},{"s":"Bad","x":12.32,"y":-0.29},{"s":"Bad","x":12.82,"y":-0.51},{"s":"Bad","x":13.08,"y":-0.33},{"s":"Bad","x":13.84,"y":-0.42},{"s":"Bad","x":14.61,"y":-0.33},{"s":"Bad","x":14.86,"y":-0.47},{"s":"Bad","x":15.37,"y":-0.29},{"s":"Bad","x":16.39,"y":-0.15},{"s":"Bad","x":17.4,"y":-0.11},{"s":"Bad","x":18.42,"y":-0.06},{"s":"Bad","x":19.2,"y":-0.02},
{"s":"Pbd","x":-18.05,"y":0},{"s":"Pbd","x":-16.69,"y":0},{"s":"Pbd","x":-16.18,"y":-0.74},{"s":"Pbd","x":-15.93,"y":-1.28},{"s":"Pbd","x":-15.67,"y":-1.1},{"s":"Pbd","x":-15.47,"y":-0.74},{"s":"Pbd","x":-15.29,"y":-1.46},{"s":"Pbd","x":-15.17,"y":-2.8},{"s":"Pbd","x":-15.04,"y":-4.6},{"s":"Pbd","x":-14.96,"y":-5.32},{"s":"Pbd","x":-14.86,"y":-3.97},{"s":"Pbd","x":-14.73,"y":-3.97},{"s":"Pbd","x":-14.66,"y":-2.35},{"s":"Pbd","x":-14.53,"y":-0.74},{"s":"Pbd","x":-14.35,"y":0},{"s":"Pbd","x":-7.28,"y":0},{"s":"Pbd","x":-7.12,"y":-1.01},{"s":"Pbd","x":-6.95,"y":-3.07},{"s":"Pbd","x":-6.82,"y":-1.46},{"s":"Pbd","x":-6.64,"y":-0.56},{"s":"Pbd","x":-6.39,"y":-0.2},{"s":"Pbd","x":-6.13,"y":0},{"s":"Pbd","x":-4.61,"y":0},{"s":"Pbd","x":-4.35,"y":-0.74},{"s":"Pbd","x":-4.1,"y":-1.81},{"s":"Pbd","x":-3.92,"y":-2.44},{"s":"Pbd","x":-3.72,"y":-2.26},{"s":"Pbd","x":-3.46,"y":-2.62},{"s":"Pbd","x":-3.21,"y":-2.71},{"s":"Pbd","x":-2.95,"y":-2.8},{"s":"Pbd","x":-2.7,"y":-2.98},{"s":"Pbd","x":-2.44,"y":-1.28},{"s":"Pbd","x":-2.14,"y":-1.14},{"s":"Pbd","x":-1.88,"y":-2.53},{"s":"Pbd","x":-1.68,"y":-1.81},{"s":"Pbd","x":-1.42,"y":-1.46},{"s":"Pbd","x":-1.12,"y":-1.37},{"s":"Pbd","x":-0.92,"y":-2.89},{"s":"Pbd","x":-0.74,"y":-3.7},{"s":"Pbd","x":-0.61,"y":-5.05},{"s":"Pbd","x":-0.46,"y":-3.25},{"s":"Pbd","x":-0.28,"y":-2.35},{"s":"Pbd","x":-0.15,"y":-3.07},{"s":"Pbd","x":-0.05,"y":-4.06},{"s":"Pbd","x":0.05,"y":0},{"s":"Pbd","x":2.14,"y":0},{"s":"Pbd","x":2.52,"y":-0.56},{"s":"Pbd","x":2.77,"y":-1.77},{"s":"Pbd","x":2.95,"y":-1.01},{"s":"Pbd","x":3.16,"y":-1.46},{"s":"Pbd","x":3.36,"y":-2.35},{"s":"Pbd","x":3.49,"y":-3.39},{"s":"Pbd","x":3.61,"y":-2.53},{"s":"Pbd","x":3.79,"y":-2.17},{"s":"Pbd","x":4.05,"y":-1.81},{"s":"Pbd","x":4.3,"y":-0.2},{"s":"Pbd","x":4.55,"y":-0.56},{"s":"Pbd","x":4.81,"y":-0.74},{"s":"Pbd","x":5.06,"y":-0.87},{"s":"Pbd","x":5.32,"y":-1.28},{"s":"Pbd","x":5.5,"y":-1.81},{"s":"Pbd","x":5.7,"y":-1.46},{"s":"Pbd","x":6.01,"y":-2.35},{"s":"Pbd","x":6.21,"y":-1.9},{"s":"Pbd","x":6.41,"y":-1.46},{"s":"Pbd","x":6.59,"y":-0.92},{"s":"Pbd","x":6.84,"y":-1.55},{"s":"Pbd","x":7.02,"y":-1.19},{"s":"Pbd","x":7.23,"y":-1.01},{"s":"Pbd","x":7.48,"y":-0.83},{"s":"Pbd","x":7.74,"y":-0.74},{"s":"Pbd","x":7.99,"y":-0.92},{"s":"Pbd","x":8.24,"y":-0.56},{"s":"Pbd","x":8.63,"y":-0.2},{"s":"Pbd","x":8.96,"y":0},{"s":"Pbd","x":14.61,"y":0},{"s":"Pbd","x":15.37,"y":-0.2},{"s":"Pbd","x":16.01,"y":-0.42},{"s":"Pbd","x":16.64,"y":-0.51},{"s":"Pbd","x":17.15,"y":-0.47},{"s":"Pbd","x":17.91,"y":-0.24},{"s":"Pbd","x":18.68,"y":-0.06},{"s":"Pbd","x":19.2,"y":-0.02}
]},
"hconcat":[
{
 "width":507,"height":410,
 "encoding":{
  "x":{"field":"x","type":"quantitative","scale":{"domain":[-19,20],"nice":false,"zero":false},
   "axis":{"title":"Energy (eV)","titleX":247,"titleY":56,"titleBaseline":"middle","tickSize":{"condition":{"test":"datum.value % 3 === 0","value":6},"value":3},"labelExpr":"datum.value % 3 === 0 ? format(datum.value, 'd') : ''","values":[-18,-16.5,-15,-13.5,-12,-10.5,-9,-7.5,-6,-4.5,-3,-1.5,0,1.5,3,4.5,6,7.5,9,10.5,12,13.5,15,16.5,18,19.5]}},
  "y":{"field":"y","type":"quantitative","scale":{"domain":[-15,15],"nice":false,"zero":false},
   "axis":{"title":"DOS (States/eV cell)","titleFontSize":24,"titleX":-46,"titleBaseline":"middle","tickSize":{"condition":{"test":"datum.value % 3 === 0","value":6},"value":3},"labelExpr":"datum.value % 3 === 0 ? format(datum.value, 'd') : ''","values":[-15,-13.5,-12,-10.5,-9,-7.5,-6,-4.5,-3,-1.5,0,1.5,3,4.5,6,7.5,9,10.5,12,13.5,15]}}
 },
 "layer":[
  {"data":{"name":"cubic"},"mark":{"type":"line","strokeWidth":1.6,"clip":true},
   "encoding":{"color":{"field":"s","type":"nominal","sort":null,
     "scale":{"domain":["Ca","Sr","Ba","Pb","Cad","Srd","Bad","Pbd"],"range":["#000000","#1010ff","#ff00ff","#101080","#ff1010","#1a9a9a","#9a9a10","#8a0a0a"]},
     "legend":{"title":null,"values":["Ca","Sr","Ba","Pb"],"labelExpr":"datum.value=='Ca'?'CaTiO₃':datum.value=='Sr'?'SrTiO₃':datum.value=='Ba'?'BaTiO₃':'PbTiO₃'","orient":"none","legendX":371,"legendY":9,"padding":0,"symbolType":"M-3,0H3","symbolSize":196,"symbolStrokeWidth":2,"labelOffset":19,"rowPadding":12,"labelFont":"Liberation Sans","labelFontSize":18,"labelFontWeight":"bold","labelColor":"#111"}}}},
  {"data":{"values":[{"x":0,"y":-15,"y2":15}]},"mark":{"type":"rule","color":"#22e022","strokeWidth":2},"encoding":{"y2":{"field":"y2"}}},
  {"data":{"values":[{"x":-13.0,"x2":-7.7,"y":13.1,"y2":10.85}]},"mark":{"type":"rect","fill":"#000"},"encoding":{"x2":{"field":"x2"},"y2":{"field":"y2"}}},
  {"data":{"values":[{"x":-13.4,"x2":-8.1,"y":13.48,"y2":11.2}]},"mark":{"type":"rect","fill":"#fff","stroke":"#888","strokeWidth":1},"encoding":{"x2":{"field":"x2"},"y2":{"field":"y2"}}},
  {"data":{"values":[{"x":-10.75,"y":12.35,"t":"Cubic"}]},"mark":{"type":"text","font":"Liberation Sans","fontWeight":"bold","fontSize":18,"color":"#111","baseline":"middle","align":"center"},"encoding":{"text":{"field":"t"}}}
 ]
},
{
 "width":488,"height":404,
 "encoding":{
  "x":{"field":"x","type":"quantitative","scale":{"domain":[-18.05,19.2],"nice":false,"zero":false},
   "axis":{"title":"Energy (eV)","titleX":251,"titleY":59,"titleBaseline":"middle","tickSize":{"condition":{"test":"datum.value % 3 === 0","value":6},"value":3},"labelExpr":"datum.value % 3 === 0 ? format(datum.value, 'd') : ''","values":[-18,-16.5,-15,-13.5,-12,-10.5,-9,-7.5,-6,-4.5,-3,-1.5,0,1.5,3,4.5,6,7.5,9,10.5,12,13.5,15,16.5,18]}},
  "y":{"field":"y","type":"quantitative","scale":{"domain":[-5.45,5.45],"nice":false,"zero":false},
   "axis":{"title":"DOS (States/eV cell)","titleFontSize":24,"titleX":-53,"titleBaseline":"middle","tickSize":{"condition":{"test":"datum.value % 1 === 0","value":6},"value":3},"labelExpr":"datum.value % 1 === 0 ? format(datum.value, 'd') : ''","values":[-5,-4.5,-4,-3.5,-3,-2.5,-2,-1.5,-1,-0.5,0,0.5,1,1.5,2,2.5,3,3.5,4,4.5,5]}}
 },
 "layer":[
  {"data":{"name":"tetra"},"mark":{"type":"line","strokeWidth":1.6,"clip":true},
   "encoding":{"color":{"field":"s","type":"nominal","sort":null,
     "scale":{"domain":["Ca","Sr","Ba","Pb","Cad","Srd","Bad","Pbd"],"range":["#000000","#1010ff","#ff00ff","#101080","#ff1010","#1a9a9a","#9a9a10","#8a0a0a"]},
     "legend":{"title":null,"values":["Ca","Sr","Ba","Pb"],"labelExpr":"datum.value=='Ca'?'CaTiO₃':datum.value=='Sr'?'SrTiO₃':datum.value=='Ba'?'BaTiO₃':'PbTiO₃'","orient":"none","legendX":377,"legendY":8,"padding":0,"symbolType":"M-3,0H3","symbolSize":196,"symbolStrokeWidth":2,"labelOffset":19,"rowPadding":11,"labelFont":"Liberation Sans","labelFontSize":18,"labelFontWeight":"bold","labelColor":"#111"}}}},
  {"data":{"values":[{"x":0,"y":-5.45,"y2":5.45}]},"mark":{"type":"rule","color":"#22e022","strokeWidth":2},"encoding":{"y2":{"field":"y2"}}},
  {"data":{"values":[{"x":-13.5,"x2":-4.94,"y":5.05,"y2":4.28}]},"mark":{"type":"rect","fill":"#000"},"encoding":{"x2":{"field":"x2"},"y2":{"field":"y2"}}},
  {"data":{"values":[{"x":-13.95,"x2":-5.4,"y":5.22,"y2":4.44}]},"mark":{"type":"rect","fill":"#fff","stroke":"#888","strokeWidth":1},"encoding":{"x2":{"field":"x2"},"y2":{"field":"y2"}}},
  {"data":{"values":[{"x":-9.67,"y":4.83,"t":"Tetragonal"}]},"mark":{"type":"text","font":"Liberation Sans","fontWeight":"bold","fontSize":18,"color":"#111","baseline":"middle","align":"center"},"encoding":{"text":{"field":"t"}}}
 ]
}
],
"spacing":160,
"bounds":"flush",
"center":true,
"resolve":{"scale":{"x":"independent","y":"independent","color":"independent"},"legend":{"color":"independent"}}
}
